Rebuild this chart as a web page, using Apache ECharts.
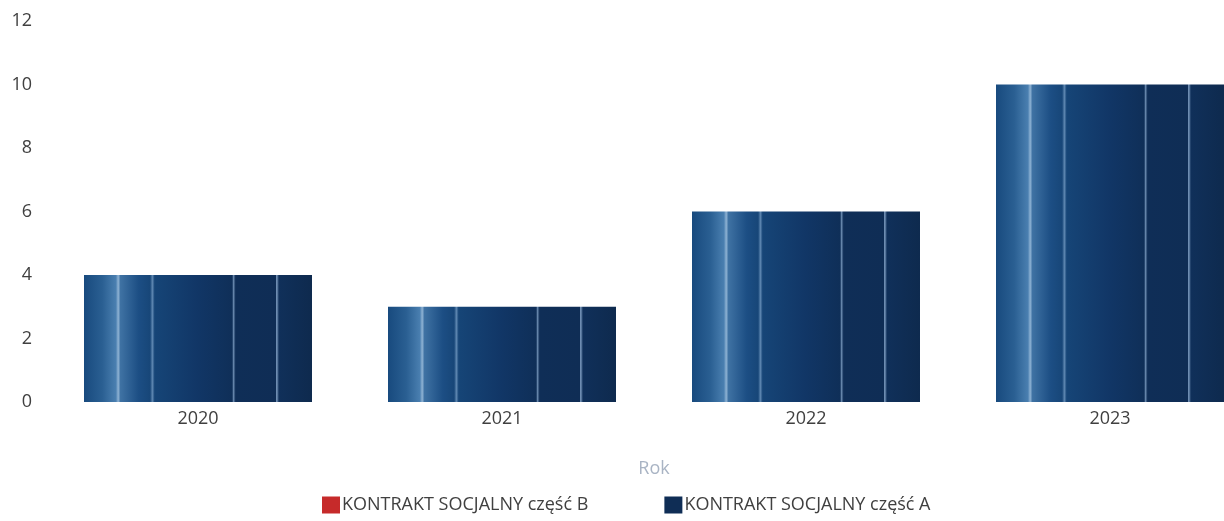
<!DOCTYPE html>
<html><head><meta charset="utf-8">
<script src="https://cdn.jsdelivr.net/npm/echarts@6/dist/echarts.min.js"></script>
<style>html,body{margin:0;padding:0;background:#fff}#c{width:1224px;height:521px}</style>
</head><body><div id="c"></div>
<script>
const categories = ['2020', '2021', '2022', '2023'];
const partA = [4, 3, 6, 10];
const partB = [0, 0, 0, 0];
const yTicks = [0, 2, 4, 6, 8, 10, 12];
const seriesNames = ['KONTRAKT SOCJALNY część B', 'KONTRAKT SOCJALNY część A'];
const axisName = 'Rok';

const font = '"Open Sans", sans-serif';
const barGrad = {
  type: 'linear', x: 0, y: 0, x2: 1, y2: 0,
  colorStops: [
    {offset: 0, color: '#184a7e'},
    {offset: 0.08, color: '#2a5f92'},
    {offset: 0.14, color: '#4a7fb0'},
    {offset: 0.15, color: '#8fb3d4'},
    {offset: 0.16, color: '#3f72a3'},
    {offset: 0.24, color: '#1c4e84'},
    {offset: 0.29, color: '#174678'},
    {offset: 0.3, color: '#5d86b0'},
    {offset: 0.31, color: '#164577'},
    {offset: 0.5, color: '#113666'},
    {offset: 0.65, color: '#0f2f58'},
    {offset: 0.655, color: '#6b8bb0'},
    {offset: 0.665, color: '#0f2e57'},
    {offset: 0.84, color: '#0f2d55'},
    {offset: 0.845, color: '#7d9cc0'},
    {offset: 0.855, color: '#10305a'},
    {offset: 1, color: '#0e2a4e'}
  ]
};
const chart = echarts.init(document.getElementById('c'));
chart.setOption({
  animation: false,
  backgroundColor: '#fff',
  grid: {left: 46, width: 1216, top: 21, bottom: 119, containLabel: false, outerBoundsMode: 'none'},
  legend: {
    data: [
      {name: seriesNames[0], itemStyle: {color: '#c62a2a'}},
      {name: seriesNames[1], itemStyle: {color: '#0f2d55'}}
    ],
    bottom: 2, left: 317,
    itemWidth: 18, itemHeight: 17, itemGap: 76,
    icon: 'rect',
    textStyle: {color: '#404040', fontSize: 18, fontFamily: font, padding: [0,0,0,-3]}
  },
  xAxis: {
    type: 'category', data: categories,
    name: axisName, nameLocation: 'middle', nameGap: 58,
    nameTextStyle: {color: '#a9b4c4', fontSize: 18, fontFamily: font},
    axisLine: {show: false}, axisTick: {show: false},
    axisLabel: {color: '#404040', fontSize: 18, fontFamily: font, margin: 8}
  },
  yAxis: {
    type: 'value', min: yTicks[0], max: yTicks[yTicks.length-1], interval: 2,
    axisLine: {show: false}, axisTick: {show: false}, splitLine: {show: false},
    axisLabel: {color: '#404040', fontSize: 18, fontFamily: font, margin: 14}
  },
  series: [
    {name: seriesNames[1], type: 'bar', stack: 's', data: partA, barCategoryGap: '25%',
      itemStyle: {color: barGrad}},
    {name: seriesNames[0], type: 'bar', stack: 's', data: partB,
      itemStyle: {color: '#c62a2a'}}
  ]
});
</script></body></html>
